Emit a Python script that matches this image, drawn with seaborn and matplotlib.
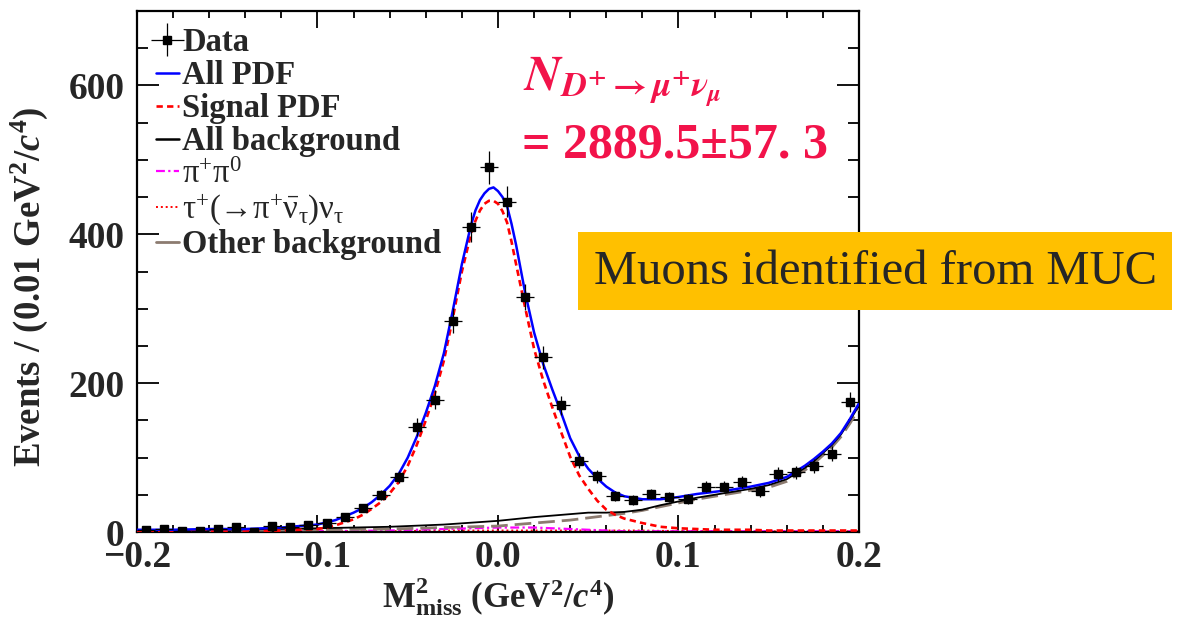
import numpy as np
import pandas as pd
import matplotlib
matplotlib.use("Agg")
import matplotlib.pyplot as plt
import seaborn as sns
from matplotlib.lines import Line2D
from matplotlib.patches import Rectangle
from matplotlib.ticker import MultipleLocator

# ---- binned data: centres of 0.01 GeV^2/c^4 bins and event counts ----
bin_centers = [-0.195, -0.185, -0.175, -0.165, -0.155, -0.145, -0.135, -0.125,
               -0.115, -0.105, -0.095, -0.085, -0.075, -0.065, -0.055, -0.045,
               -0.035, -0.025, -0.015, -0.005, 0.005, 0.015, 0.025, 0.035,
               0.045, 0.055, 0.065, 0.075, 0.085, 0.095, 0.105, 0.115,
               0.125, 0.135, 0.145, 0.155, 0.165, 0.175, 0.185, 0.195]
counts = [3, 4, 2, 2, 4, 7, 0, 8, 7, 9, 12, 20, 32, 50, 74, 141,
          178, 284, 410, 490, 444, 316, 235, 170, 96, 75, 48, 43, 51, 47,
          44, 61, 61, 67, 55, 78, 80, 89, 105, 175]

# ---- fitted shapes, sampled along M2_miss ----
x_fit = [-0.20, -0.18, -0.16, -0.14, -0.12, -0.10,
         -0.095, -0.09, -0.085, -0.08, -0.075, -0.07, -0.065, -0.06, -0.055, -0.05,
         -0.045, -0.04, -0.035, -0.03, -0.025, -0.02, -0.015, -0.0125, -0.01,
         -0.0075, -0.005, -0.0025, 0.0, 0.0025, 0.005, 0.0075,
         0.01, 0.015, 0.02, 0.025, 0.03, 0.035, 0.04, 0.045, 0.05,
         0.055, 0.06, 0.065, 0.07,
         0.08, 0.09, 0.10, 0.11, 0.12, 0.13, 0.14, 0.15, 0.16, 0.17,
         0.175, 0.18, 0.185, 0.19, 0.195, 0.20]
all_pdf = [3, 3, 4, 4, 6, 10,
           13, 16, 21, 26, 32, 40, 50, 62, 78, 100,
           128, 160, 196, 240, 298, 360, 412, 432, 446,
           455, 461, 463, 458, 450, 438, 414,
           386, 322, 268, 226, 192, 160, 126, 102, 85,
           72, 61, 53, 48,
           44, 44, 47, 51, 54, 57, 61, 66, 74, 89,
           98, 108, 119, 133, 152, 173]
signal_pdf = [0.5, 0.5, 1, 1, 2, 4,
              6, 9, 13, 17, 23, 31, 40, 52, 67, 89,
              117, 150, 186, 230, 288, 350, 400, 418, 432,
              441, 445, 445, 441, 431, 416, 390,
              360, 302, 246, 204, 168, 134, 101, 76, 58,
              42, 30, 23, 18,
              12, 7, 5, 4, 3, 3, 3, 2, 2, 2,
              2, 2, 2, 2, 2, 2]

x_bkg = [-0.20, -0.15, -0.10, -0.06, -0.03, 0.0, 0.02, 0.04, 0.05, 0.06,
         0.07, 0.08, 0.09, 0.10, 0.11, 0.12, 0.13, 0.14, 0.15, 0.16,
         0.17, 0.175, 0.18, 0.185, 0.19, 0.195, 0.20]
all_bkg = [2, 3, 5, 7, 10, 15, 20, 24, 26, 26,
           27, 30, 36, 41, 46, 50, 54, 58, 63, 71,
           86, 95, 106, 117, 131, 150, 170]
other_bkg = [1, 2, 3, 4, 6, 8, 12, 16, 19, 22,
             25, 29, 34, 39, 44, 48, 52, 56, 60, 68,
             83, 92, 103, 114, 128, 146, 166]
pipi0_bkg = [0.5, 0.5, 1, 2, 4, 6, 6, 4, 3, 2,
             1, 1, 1, 1, 1, 1, 1, 1, 1, 1,
             1, 1, 1, 1, 1, 1, 1]
taunu_bkg = [0.5, 0.5, 1, 1, 2, 2, 2, 2, 2, 2,
             2, 2, 1.5, 1.5, 1.5, 1, 1, 1, 1, 1,
             1, 1, 1, 1, 1, 1, 1]

yield_text = "= 2889.5\u00b157. 3"

# ---- style ----
sns.set_theme(style="ticks")
plt.rcParams["font.family"] = ["Liberation Serif", "DejaVu Serif"]
plt.rcParams["font.weight"] = "bold"
plt.rcParams["mathtext.fontset"] = "custom"
plt.rcParams["mathtext.rm"] = "Liberation Serif:normal"
plt.rcParams["mathtext.it"] = "Liberation Serif:italic"
plt.rcParams["mathtext.bf"] = "Liberation Serif:bold"
plt.rcParams["mathtext.default"] = "rm"
plt.rcParams["axes.unicode_minus"] = True

W, H = 1186, 617
fig = plt.figure(figsize=(W / 100, H / 100), dpi=100)
fig.patch.set_facecolor("white")
L, R, T, B = 137, 859, 11, 532
ax = fig.add_axes([L / W, (H - B) / H, (R - L) / W, (B - T) / H])
ax.set_facecolor("white")

df_data = pd.DataFrame({"x": bin_centers, "n": counts})
df_data["err"] = np.sqrt(df_data["n"])

fit_df = pd.DataFrame({"x": x_fit, "all": all_pdf, "sig": signal_pdf})
bkg_df = pd.DataFrame({"x": x_bkg, "all": all_bkg, "other": other_bkg,
                       "pipi0": pipi0_bkg, "tau": taunu_bkg})

# background components
sns.lineplot(data=bkg_df, x="x", y="tau", ax=ax, color="red", lw=1.4,
             linestyle=(0, (1, 1.5)), estimator=None, sort=False, zorder=2)
sns.lineplot(data=bkg_df, x="x", y="pipi0", ax=ax, color="magenta", lw=1.6,
             linestyle=(0, (4, 1.5, 1, 1.5)), estimator=None, sort=False, zorder=2)
sns.lineplot(data=bkg_df, x="x", y="other", ax=ax, color="#8c7b70", lw=2.0,
             linestyle=(0, (6, 2.5)), estimator=None, sort=False, zorder=3)
sns.lineplot(data=bkg_df, x="x", y="all", ax=ax, color="black", lw=1.3,
             estimator=None, sort=False, zorder=3)
# signal and total
sns.lineplot(data=fit_df, x="x", y="sig", ax=ax, color="red", lw=1.9,
             linestyle=(0, (2.4, 1.6)), estimator=None, sort=False, zorder=4)
sns.lineplot(data=fit_df, x="x", y="all", ax=ax, color="blue", lw=1.8,
             estimator=None, sort=False, zorder=5)

# data points with Poisson errors
eb = ax.errorbar(df_data["x"], df_data["n"], yerr=df_data["err"], xerr=0.005,
                 fmt="s", color="black", ms=6.3, elinewidth=0.9, capsize=0,
                 zorder=6)

ax.set_xlim(-0.2, 0.2)
ax.set_ylim(0, 700)
ax.xaxis.set_major_locator(MultipleLocator(0.1))
ax.xaxis.set_minor_locator(MultipleLocator(0.02))
ax.yaxis.set_major_locator(MultipleLocator(200))
ax.yaxis.set_minor_locator(MultipleLocator(50))
ax.tick_params(axis="both", which="both", direction="in", top=True, right=True,
               color="black", width=1.3)
ax.tick_params(axis="x", which="major", length=12, pad=6, labelsize=27)
ax.tick_params(axis="x", which="minor", length=5)
ax.tick_params(axis="y", which="major", length=16, pad=9, labelsize=27)
ax.tick_params(axis="y", which="minor", length=8)
for lab in ax.get_xticklabels() + ax.get_yticklabels():
    lab.set_fontweight("bold")
for sp in ax.spines.values():
    sp.set_linewidth(1.6)
    sp.set_color("black")

ax.set_xlabel(r"$\mathbf{M}^{\mathbf{2}}_{\mathbf{miss}}$ (GeV$^{\mathbf{2}}$/$\mathit{c}^{\mathbf{4}}$)",
              fontsize=25, fontweight="bold", labelpad=0)
ax.set_ylabel(r"Events / (0.01 GeV$^{\mathbf{2}}$/$\mathit{c}^{\mathbf{4}}$)",
              fontsize=26.5, fontweight="bold")
ax.yaxis.set_label_coords(-0.121, 0.47)

handles = [eb,
           Line2D([], [], color="blue", lw=1.8),
           Line2D([], [], color="red", lw=1.9, linestyle=(0, (2.4, 1.6))),
           Line2D([], [], color="black", lw=1.8),
           Line2D([], [], color="magenta", lw=1.6, linestyle=(0, (4, 1.5, 1, 1.5))),
           Line2D([], [], color="red", lw=1.4, linestyle=(0, (1, 1.5))),
           Line2D([], [], color="#8c7b70", lw=2.0)]
labels = ["Data", "All PDF", "Signal PDF", "All background",
          r"π$^{+}$π$^{0}$",
          r"τ$^{+}$(→π$^{+}\bar{\nu}_{\tau}$)ν$_{\tau}$",
          "Other background"]
leg = ax.legend(handles, labels, loc="upper left", bbox_to_anchor=(0.026, 0.969),
                frameon=False, handlelength=0.7, handletextpad=0.1,
                labelspacing=0.06, borderpad=0, borderaxespad=0,
                prop={"family": "Liberation Serif", "weight": "bold", "size": 23.5})
for t in leg.get_texts()[4:6]:
    t.set_fontweight("normal")

red = "#f2134a"
fig.text(523 / W, 1 - 90 / H,
         r"$\mathbfit{N}_{\mathbfit{D}^{\mathbf{+}}\mathbf{\rightarrow}\mathbfit{\mu}^{\mathbf{+}}\mathbfit{\nu}_{\mathbfit{\mu}}}$",
         color=red, fontsize=36, math_fontfamily="stix", ha="left", va="baseline")
fig.text(522 / W, 1 - 157 / H, yield_text, color=red, fontsize=36,
         fontweight="bold", family="Liberation Serif", ha="left", va="baseline")

# highlighted note box
fig.add_artist(Rectangle((578 / W, 1 - 310 / H), (1172 - 578) / W, (310 - 232) / H,
                         transform=fig.transFigure, facecolor="#ffc000",
                         edgecolor="none", zorder=10))
fig.text(594 / W, 1 - 272 / H, "Muons identified from MUC", color="#262626",
         fontsize=35, fontweight="normal", family="Liberation Serif",
         ha="left", va="center", zorder=11)

fig.savefig("out.png", dpi=100)
